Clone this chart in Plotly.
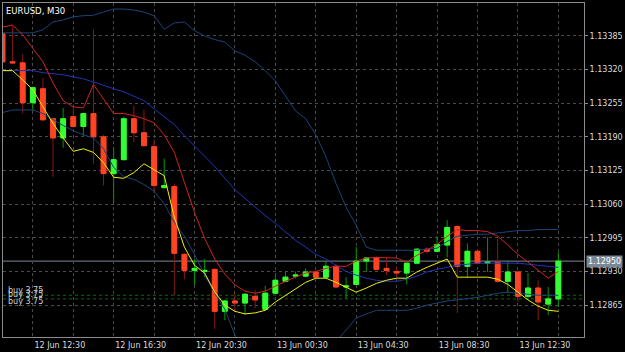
import plotly.graph_objects as go

# ---------------- data ----------------
bars = list(range(56))  # M30 bars, 12 Jun 11:00 ... 13 Jun 14:30

opens = [1.13389, 1.13335, 1.13333, 1.13256, 1.13283, 1.13225, 1.13188, 1.13229, 1.13210, 1.13235,
         1.13190, 1.13119, 1.13146, 1.13225, 1.13198, 1.13171, 1.13092, 1.13094, 1.12963, 1.12932,
         1.12930, 1.12934, 1.12853, 1.12873, 1.12869, 1.12882, 1.12857, 1.12888, 1.12911, 1.12921,
         1.12921, 1.12929, 1.12919, 1.12940, 1.12900, 1.12905, 1.12950, 1.12957, 1.12936, 1.12930,
         1.12927, 1.12946, 1.12973, 1.12969, 1.12981, 1.13017, 1.12940, 1.12969, 1.12946, 1.12948,
         1.12911, 1.12929, 1.12882, 1.12898, 1.12867, 1.12877]
highs = [1.13391, 1.13404, 1.13350, 1.13287, 1.13304, 1.13227, 1.13246, 1.13246, 1.13237, 1.13397,
         1.13194, 1.13169, 1.13229, 1.13250, 1.13242, 1.13185, 1.13148, 1.13100, 1.12965, 1.12954,
         1.12954, 1.12936, 1.12875, 1.12888, 1.12888, 1.12894, 1.12902, 1.12921, 1.12930, 1.12930,
         1.12936, 1.12932, 1.12950, 1.12944, 1.12919, 1.12977, 1.12957, 1.12959, 1.12956, 1.12940,
         1.12948, 1.12975, 1.12977, 1.12998, 1.13029, 1.13019, 1.12984, 1.12971, 1.12996, 1.12994,
         1.12950, 1.12930, 1.12927, 1.12913, 1.12900, 1.12967]
lows = [1.13331, 1.13331, 1.13235, 1.13240, 1.13221, 1.13113, 1.13169, 1.13208, 1.13192, 1.13138,
        1.13096, 1.13063, 1.13144, 1.13179, 1.13171, 1.13081, 1.13090, 1.12884, 1.12915, 1.12904,
        1.12919, 1.12819, 1.12836, 1.12852, 1.12846, 1.12859, 1.12855, 1.12886, 1.12909, 1.12917,
        1.12919, 1.12917, 1.12917, 1.12898, 1.12877, 1.12904, 1.12929, 1.12932, 1.12923, 1.12917,
        1.12905, 1.12944, 1.12965, 1.12967, 1.12957, 1.12850, 1.12919, 1.12944, 1.12929, 1.12909,
        1.12890, 1.12871, 1.12875, 1.12836, 1.12846, 1.12861]
closes = [1.13335, 1.13333, 1.13256, 1.13285, 1.13223, 1.13188, 1.13225, 1.13210, 1.13235, 1.13190,
          1.13119, 1.13146, 1.13225, 1.13198, 1.13173, 1.13096, 1.13096, 1.12965, 1.12932, 1.12936,
          1.12932, 1.12853, 1.12873, 1.12869, 1.12886, 1.12875, 1.12888, 1.12913, 1.12919, 1.12923,
          1.12929, 1.12919, 1.12940, 1.12900, 1.12902, 1.12950, 1.12956, 1.12934, 1.12932, 1.12927,
          1.12946, 1.12973, 1.12969, 1.12982, 1.13015, 1.12940, 1.12969, 1.12946, 1.12948, 1.12911,
          1.12929, 1.12882, 1.12898, 1.12871, 1.12877, 1.12950]

red_ma = [1.13402, 1.13406, 1.13387, 1.13362, 1.13335, 1.13294, 1.13260, 1.13248, 1.13246, 1.13291,
          1.13264, 1.13235, 1.13235, 1.13231, 1.13225, 1.13217, 1.13194, 1.13160, 1.13102, 1.13044,
          1.12994, 1.12954, 1.12925, 1.12904, 1.12892, 1.12888, 1.12892, 1.12902, 1.12911, 1.12919,
          1.12927, 1.12930, 1.12936, 1.12940, 1.12940, 1.12950, 1.12956, 1.12957, 1.12957, 1.12956,
          1.12948, 1.12961, 1.12971, 1.12982, 1.12998, 1.13011, 1.13009, 1.13009, 1.13007, 1.12998,
          1.12981, 1.12963, 1.12948, 1.12932, 1.12917, 1.12930]
yellow_ma = [1.13318, 1.13318, 1.13300, 1.13281, 1.13248, 1.13216, 1.13188, 1.13162, 1.13167, 1.13160,
             1.13140, 1.13112, 1.13110, 1.13121, 1.13138, 1.13127, 1.13115, 1.13035, 1.12977, 1.12942,
             1.12927, 1.12890, 1.12865, 1.12853, 1.12848, 1.12850, 1.12855, 1.12871, 1.12884, 1.12896,
             1.12909, 1.12917, 1.12917, 1.12909, 1.12900, 1.12890, 1.12898, 1.12907, 1.12913, 1.12917,
             1.12917, 1.12929, 1.12938, 1.12946, 1.12954, 1.12919, 1.12919, 1.12919, 1.12919, 1.12915,
             1.12905, 1.12890, 1.12875, 1.12863, 1.12855, 1.12853]
bb_middle = [1.13318, 1.13318, 1.13318, 1.13318, 1.13314, 1.13312, 1.13310, 1.13306, 1.13302, 1.13296,
             1.13289, 1.13283, 1.13277, 1.13269, 1.13260, 1.13244, 1.13229, 1.13214, 1.13192, 1.13173,
             1.13152, 1.13133, 1.13110, 1.13088, 1.13071, 1.13054, 1.13038, 1.13023, 1.13006, 1.12990,
             1.12977, 1.12963, 1.12954, 1.12942, 1.12930, 1.12923, 1.12917, 1.12913, 1.12911, 1.12911,
             1.12915, 1.12921, 1.12929, 1.12934, 1.12938, 1.12942, 1.12944, 1.12946, 1.12946, 1.12946,
             1.12946, 1.12946, 1.12944, 1.12942, 1.12940, 1.12938]
bb_upper = [1.13391, 1.13391, 1.13391, 1.13391, 1.13397, 1.13412, 1.13416, 1.13422, 1.13424, 1.13425,
            1.13431, 1.13437, 1.13437, 1.13435, 1.13431, 1.13424, 1.13398, 1.13410, 1.13412, 1.13395,
            1.13385, 1.13378, 1.13373, 1.13356, 1.13348, 1.13335, 1.13318, 1.13298, 1.13269, 1.13240,
            1.13225, 1.13194, 1.13152, 1.13100, 1.13054, 1.13019, 1.12977, 1.12971, 1.12971, 1.12971,
            1.12971, 1.12971, 1.12973, 1.12975, 1.12988, 1.12998, 1.13000, 1.13002, 1.13002, 1.13004,
            1.13006, 1.13009, 1.13009, 1.13011, 1.13011, 1.13011]
bb_lower = [1.13237, 1.13242, 1.13242, 1.13242, 1.13235, 1.13223, 1.13212, 1.13202, 1.13194, 1.13188,
            1.13167, 1.13131, 1.13113, 1.13108, 1.13098, 1.13085, 1.13061, 1.13025, 1.12998, 1.12963,
            1.12923, 1.12888, 1.12857, 1.12807, 1.12778, 1.12768, 1.12762, 1.12760, 1.12764, 1.12770,
            1.12776, 1.12782, 1.12788, 1.12794, 1.12817, 1.12840, 1.12848, 1.12855, 1.12855, 1.12855,
            1.12855, 1.12859, 1.12865, 1.12869, 1.12873, 1.12875, 1.12877, 1.12880, 1.12884, 1.12888,
            1.12890, 1.12888, 1.12886, 1.12884, 1.12884, 1.12884]

price_ticks = [1.12865, 1.12930, 1.12995, 1.13060, 1.13125, 1.13190, 1.13255, 1.13320, 1.13385]
grid_bars = [3, 7, 11, 15, 19, 23, 27, 31, 35, 39, 43, 47, 51, 55]
label_bars = [3, 11, 19, 27, 35, 43, 51]
time_labels = ["12 Jun 12:30", "12 Jun 16:30", "12 Jun 20:30", "13 Jun 00:30",
               "13 Jun 04:30", "13 Jun 08:30", "13 Jun 12:30"]
bid_price = 1.12950
order_prices = [1.12884, 1.12877, 1.12864]
order_labels = ["buy 3.75", "buy 3.75", "buy 3.75"]
title_text = "EURUSD, M30"

# ---------------- styling ----------------
FONT = "DejaVu Sans"
BODY_UP, BODY_DN = "#33ff33", "#ff4422"
WICK_UP, WICK_DN = "#009a00", "#8c1616"

body_high = [max(o, c) for o, c in zip(opens, closes)]
body_low = [min(o, c) for o, c in zip(opens, closes)]

fig = go.Figure()

# wicks
fig.add_trace(go.Candlestick(
    x=bars, open=opens, high=highs, low=lows, close=closes,
    increasing=dict(line=dict(color=WICK_UP, width=1), fillcolor=WICK_UP),
    decreasing=dict(line=dict(color=WICK_DN, width=1), fillcolor=WICK_DN),
    whiskerwidth=0, hoverinfo="skip", showlegend=False))
# bodies
fig.add_trace(go.Candlestick(
    x=bars, open=opens, high=body_high, low=body_low, close=closes,
    increasing=dict(line=dict(color=BODY_UP, width=1), fillcolor=BODY_UP),
    decreasing=dict(line=dict(color=BODY_DN, width=1), fillcolor=BODY_DN),
    whiskerwidth=0, hoverinfo="skip", showlegend=False))

line_specs = [
    (bb_upper, "#1a4478"),
    (bb_lower, "#1a4478"),
    (bb_middle, "#2233b8"),
    (red_ma, "#d42222"),
    (yellow_ma, "#f0f000"),
]
for vals, col in line_specs:
    fig.add_trace(go.Scatter(x=bars, y=vals, mode="lines",
                             line=dict(color=col, width=1),
                             hoverinfo="skip", showlegend=False))

shapes = [dict(type="line", xref="paper", x0=0, x1=1, yref="y", y0=bid_price, y1=bid_price,
               line=dict(color="#7a8896", width=1), layer="below")]
for p in order_prices:
    shapes.append(dict(type="line", xref="paper", x0=0, x1=1, yref="y", y0=p, y1=p,
                       line=dict(color="#007000", width=1, dash="3px,3px"), layer="below"))

annotations = [dict(text=title_text, xref="paper", x=0, xanchor="left", xshift=1,
                    yref="paper", y=1, yanchor="top", yshift=-1, showarrow=False,
                    font=dict(family=FONT, size=8.5, color="#ffffff"))]
for p, t in zip(order_prices, order_labels):
    annotations.append(dict(text=t, xref="paper", x=0, xanchor="left", xshift=3,
                            yref="y", y=p, yanchor="bottom", yshift=-2, showarrow=False,
                            font=dict(family=FONT, size=8, color="#cfcfcf")))
annotations.append(dict(text=f"{bid_price:.5f}", xref="paper", x=1, xanchor="left", xshift=2,
                        yref="y", y=bid_price, yanchor="middle", showarrow=False,
                        bgcolor="#7a8896", borderpad=1,
                        font=dict(family=FONT, size=8, color="#ffffff")))

tick_text = [time_labels[label_bars.index(b)] if b in label_bars else "" for b in grid_bars]

fig.update_layout(
    width=625, height=352,
    margin=dict(l=2, r=36, t=2, b=15),
    paper_bgcolor="#000000", plot_bgcolor="#000000",
    showlegend=False, boxmode="overlay", boxgap=0.32,
    shapes=shapes, annotations=annotations,
    xaxis=dict(range=[0.049, 57.54], tickmode="array", tickvals=grid_bars, ticktext=tick_text,
               showgrid=True, gridcolor="#4a4a4a", griddash="3px,3px", gridwidth=1,
               showline=True, mirror=True, linecolor="#8c8c8c", linewidth=1,
               zeroline=False, ticks="", ticklabelshift=27,
               tickfont=dict(family=FONT, size=8, color="#dcdcdc"),
               rangeslider=dict(visible=False), fixedrange=True),
    yaxis=dict(range=[1.128034, 1.134486], side="right", tickmode="array", tickvals=price_ticks,
               tickformat=".5f", showgrid=True, gridcolor="#4a4a4a", griddash="3px,3px", gridwidth=1,
               showline=True, mirror=True, linecolor="#8c8c8c", linewidth=1,
               zeroline=False, ticks="outside", ticklen=3, tickcolor="#8c8c8c",
               tickfont=dict(family=FONT, size=8, color="#dcdcdc"), fixedrange=True),
)

fig.write_html("out.html")
